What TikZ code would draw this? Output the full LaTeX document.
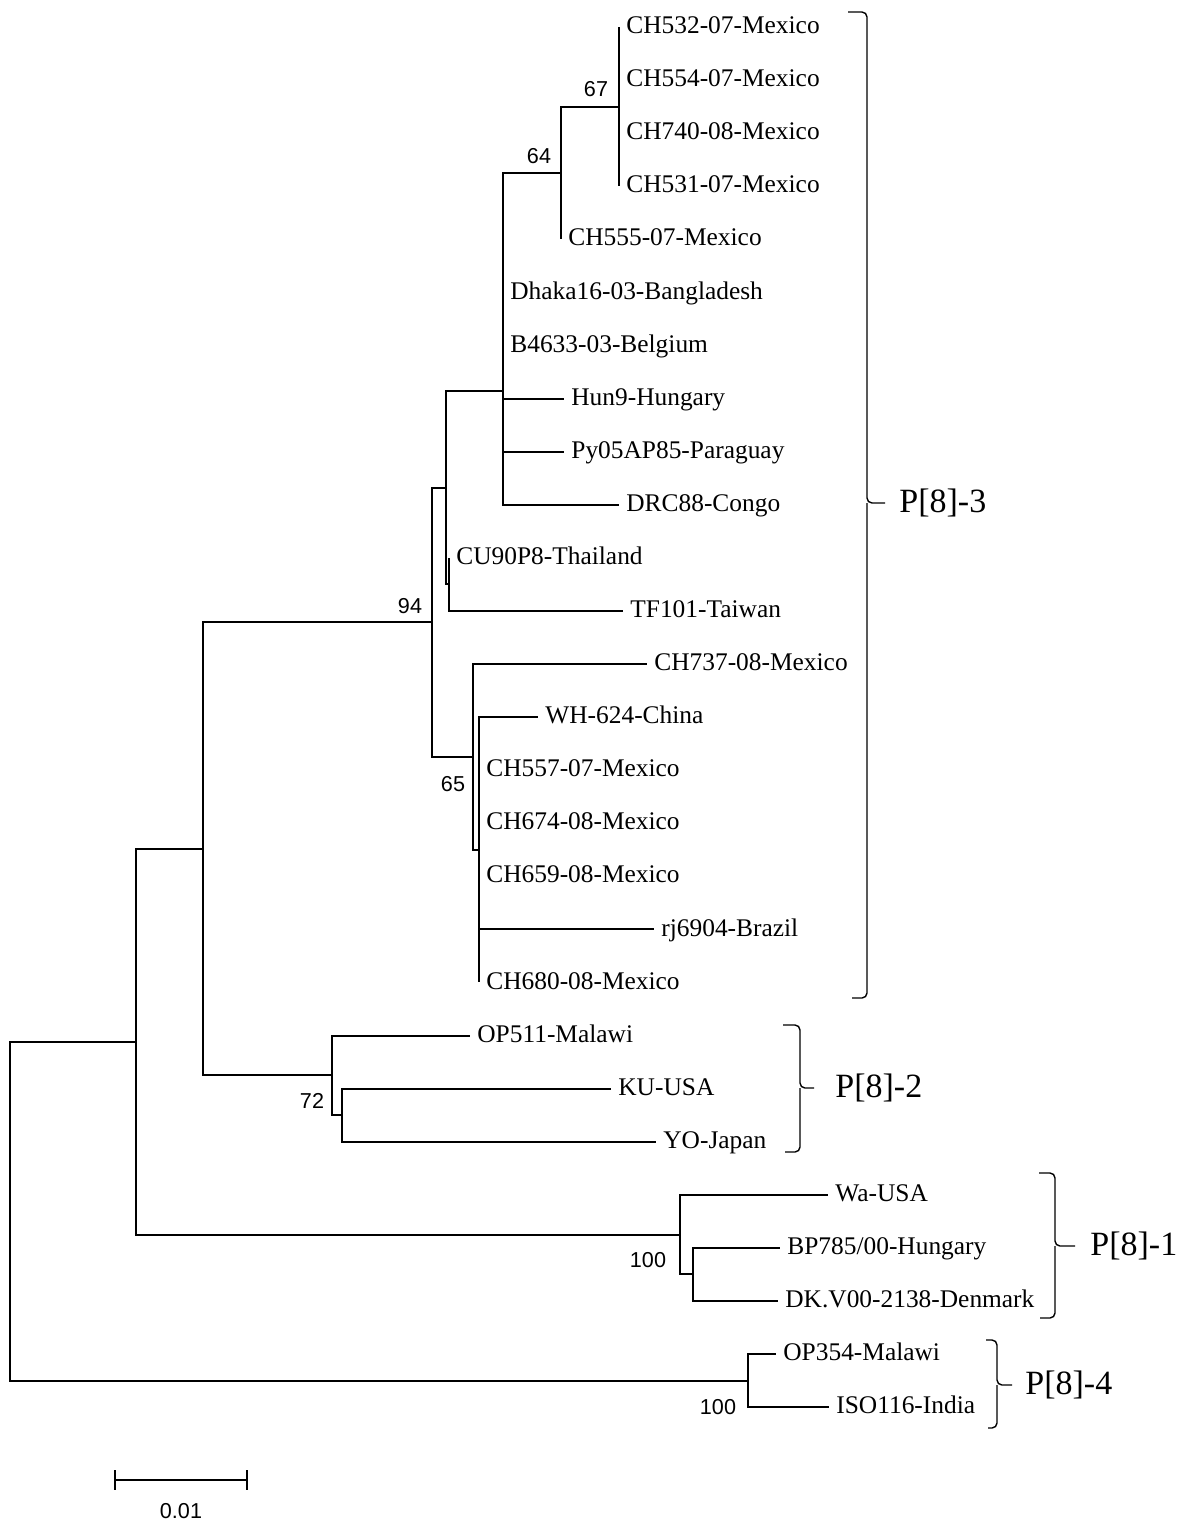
\documentclass[tikz,border=0pt]{standalone}
\usepackage{fontspec}
\setmainfont{Liberation Serif}
\newfontfamily\bootfont{Liberation Sans}

\begin{document}
\begin{tikzpicture}[x={(0.5pt,0pt)},y={(0pt,-0.5pt)},
    branch/.style={line width=1pt},
    leaf/.style={anchor=west,inner xsep=3.5pt,inner ysep=0pt,text height=0.66em,text depth=0pt,font=\fontsize{12.7}{12.7}\selectfont},
    boot/.style={inner sep=0pt,font=\bootfont\fontsize{10.8}{10.8}\selectfont},
    clade/.style={anchor=west,inner sep=0pt,font=\fontsize{17}{17}\selectfont},
    brace/.style={line width=0.7pt,rounded corners=2.5pt}]
    \useasboundingbox (0,0) rectangle (1181,1526);

    % inner nodes of the tree
    \coordinate (root) at (10,1211.2);
    \coordinate (nH) at (136,1041.8);
    \coordinate (nF) at (203,848.9);
    \coordinate (nC) at (432,622.3);
    \coordinate (nB) at (446,487.7);
    \coordinate (nA) at (503,391);
    \coordinate (n64) at (561,173);
    \coordinate (n67) at (619,106.6);
    \coordinate (nB2) at (449,584.4);
    \coordinate (nD) at (473,756.9);
    \coordinate (nE) at (479,849.7);
    \coordinate (nG) at (332,1075.4);
    \coordinate (nG2) at (342,1115.2);
    \coordinate (nP1) at (680,1234.6);
    \coordinate (nP1b) at (693,1274.4);
    \coordinate (nP4) at (748,1380.6);

    % taxa
    \node[leaf] (l1) at (619,27) {CH532-07-Mexico};
    \node[leaf] (l2) at (619,80.1) {CH554-07-Mexico};
    \node[leaf] (l3) at (619,133.2) {CH740-08-Mexico};
    \node[leaf] (l4) at (619,186.2) {CH531-07-Mexico};
    \node[leaf] (l5) at (561,239.3) {CH555-07-Mexico};
    \node[leaf] (l6) at (503,292.4) {Dhaka16-03-Bangladesh};
    \node[leaf] (l7) at (503,345.5) {B4633-03-Belgium};
    \node[leaf] (l8) at (564,398.6) {Hun9-Hungary};
    \node[leaf] (l9) at (564,451.6) {Py05AP85-Paraguay};
    \node[leaf] (l10) at (619,504.7) {DRC88-Congo};
    \node[leaf] (l11) at (449,557.8) {CU90P8-Thailand};
    \node[leaf] (l12) at (623,610.9) {TF101-Taiwan};
    \node[leaf] (l13) at (647,664) {CH737-08-Mexico};
    \node[leaf] (l14) at (538,717) {WH-624-China};
    \node[leaf] (l15) at (479,770.1) {CH557-07-Mexico};
    \node[leaf] (l16) at (479,823.2) {CH674-08-Mexico};
    \node[leaf] (l17) at (479,876.3) {CH659-08-Mexico};
    \node[leaf] (l18) at (654,929.4) {rj6904-Brazil};
    \node[leaf] (l19) at (479,982.4) {CH680-08-Mexico};
    \node[leaf] (l20) at (470,1035.5) {OP511-Malawi};
    \node[leaf] (l21) at (611,1088.6) {KU-USA};
    \node[leaf] (l22) at (656,1141.7) {YO-Japan};
    \node[leaf] (l23) at (828,1194.8) {Wa-USA};
    \node[leaf] (l24) at (780,1247.8) {BP785/00-Hungary};
    \node[leaf] (l25) at (778,1300.9) {DK.V00-2138-Denmark};
    \node[leaf] (l26) at (776,1354) {OP354-Malawi};
    \node[leaf] (l27) at (829,1407.1) {ISO116-India};

    % branches
    \foreach \t in {l1,l2,l3,l4}
        \draw[branch] (n67) |- (\t.west);
    \draw[branch] (n64) |- (n67);
    \draw[branch] (n64) |- (l5.west);
    \draw[branch] (nA) |- (n64);
    \foreach \t in {l6,l7,l8,l9,l10}
        \draw[branch] (nA) |- (\t.west);
    \draw[branch] (nB2) |- (l11.west);
    \draw[branch] (nB2) |- (l12.west);
    \draw[branch] (nB) |- (nA);
    \draw[branch] (nB) |- (nB2);
    \foreach \t in {l14,l15,l16,l17,l18,l19}
        \draw[branch] (nE) |- (\t.west);
    \draw[branch] (nD) |- (l13.west);
    \draw[branch] (nD) |- (nE);
    \draw[branch] (nC) |- (nB);
    \draw[branch] (nC) |- (nD);
    \draw[branch] (nG2) |- (l21.west);
    \draw[branch] (nG2) |- (l22.west);
    \draw[branch] (nG) |- (l20.west);
    \draw[branch] (nG) |- (nG2);
    \draw[branch] (nF) |- (nC);
    \draw[branch] (nF) |- (nG);
    \draw[branch] (nP1b) |- (l24.west);
    \draw[branch] (nP1b) |- (l25.west);
    \draw[branch] (nP1) |- (l23.west);
    \draw[branch] (nP1) |- (nP1b);
    \draw[branch] (nH) |- (nF);
    \draw[branch] (nH) |- (nP1);
    \draw[branch] (nP4) |- (l26.west);
    \draw[branch] (nP4) |- (l27.west);
    \draw[branch] (root) |- (nH);
    \draw[branch] (root) |- (nP4);

    % bootstrap values
    \node[boot] (b67) at (596,89.5) {67};
    \node[boot] (b64) at (539,156) {64};
    \node[boot] (b94) at (410,606) {94};
    \node[boot] (b65) at (453,784) {65};
    \node[boot] (b72) at (312,1101) {72};
    \node[boot] (b100a) at (648,1260) {100};
    \node[boot] (b100b) at (718,1407) {100};

    % clade brackets
    \draw[brace] (848,12) -- (867,12) -- (867,503) -- (885,503) (867,503) -- (867,998) -- (852,998);
    \node[clade] (p3) at (899,503) {P[8]-3};
    \draw[brace] (783,1025) -- (800,1025) -- (800,1088) -- (814,1088) (800,1088) -- (800,1152) -- (785,1152);
    \node[clade] (p2) at (835,1088) {P[8]-2};
    \draw[brace] (1039,1173) -- (1055,1173) -- (1055,1246) -- (1075,1246) (1055,1246) -- (1055,1318) -- (1040,1318);
    \node[clade] (p1) at (1090,1246) {P[8]-1};
    \draw[brace] (986,1340) -- (997,1340) -- (997,1385) -- (1012,1385) (997,1385) -- (997,1428) -- (988,1428);
    \node[clade] (p4) at (1025,1385) {P[8]-4};

    % scale bar
    \coordinate (s0) at (115,1480);
    \coordinate (s1) at (247,1480);
    \draw[branch] (s0) -- (s1);
    \draw[branch] ([yshift=5pt]s0) -- ([yshift=-5pt]s0);
    \draw[branch] ([yshift=5pt]s1) -- ([yshift=-5pt]s1);
    \node[boot] (sl) at (181,1511) {0.01};
\end{tikzpicture}
\end{document}
